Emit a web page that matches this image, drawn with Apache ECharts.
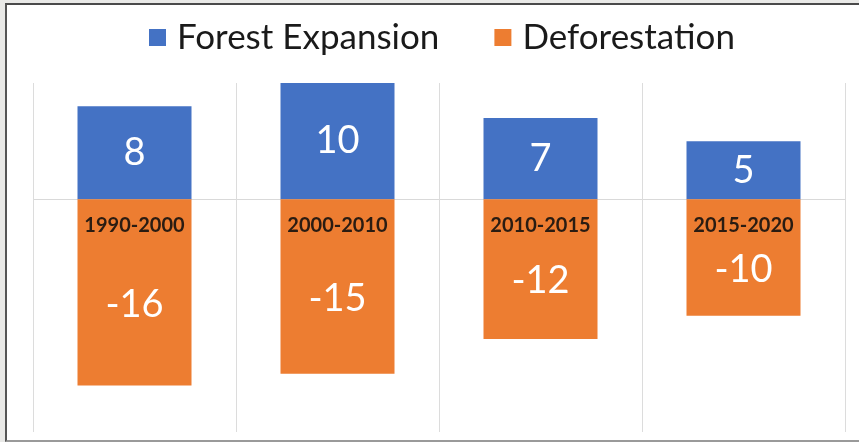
<!DOCTYPE html>
<html>
<head>
<meta charset="utf-8">
<script src="https://cdn.jsdelivr.net/npm/echarts@6/dist/echarts.min.js"></script>
<style>
  html, body { margin: 0; padding: 0; background: #e9e9e7; width: 859px; height: 442px; overflow: hidden; }
  #frame {
    position: absolute; left: 5px; top: 3px; width: 854px; height: 439px;
    background: #ffffff;
    border-left: 2px solid #555555; border-top: 2px solid #4a4a4a; border-bottom: 2px solid #9a9a9a;
    box-sizing: border-box;
  }
  #chart { width: 100%; height: 100%; }
</style>
</head>
<body>
<div id="frame"><div id="chart"></div></div>
<script>
// Periods shown along the zero line
const periods = ['1990-2000', '2000-2010', '2010-2015', '2015-2020'];
// Gains and losses per period
const forestExpansion = [8, 10, 7, 5];
const deforestation = [-16, -15, -12, -10];
const seriesNames = ['Forest Expansion', 'Deforestation'];
const yMin = -20;
const yMax = 10;

const FONT = 'Lato, "Noto Sans", sans-serif';
const chart = echarts.init(document.getElementById('chart'));

function valueLabel(dy) {
  return {
    show: true,
    position: 'inside',
    offset: [0, dy],
    color: '#ffffff',
    fontFamily: FONT,
    fontSize: 38
  };
}

chart.setOption({
  animation: false,
  legend: {
    data: seriesNames,
    top: 10,
    left: 137,
    icon: 'rect',
    itemWidth: 17,
    itemHeight: 17,
    itemGap: 55,
    textStyle: { fontFamily: FONT, fontSize: 35, color: '#1a1a1a', padding: [0, 0, 0, 6] }
  },
  grid: { left: 26, right: 14, top: 78, bottom: 8, outerBoundsMode: 'none' },
  xAxis: {
    type: 'category',
    data: periods,
    z: 10,
    axisLine: { show: false, onZero: false },
    axisTick: { show: false },
    splitLine: { show: true, lineStyle: { color: '#dcdcdc', width: 1 } },
    axisLabel: {
      margin: 16,
      fontFamily: FONT,
      fontWeight: 'bold',
      fontSize: 20,
      color: '#2a1c12'
    }
  },
  yAxis: {
    type: 'value',
    min: yMin,
    max: yMax,
    interval: 10,
    axisLine: { show: false },
    axisTick: { show: false },
    axisLabel: { show: false },
    // only the zero gridline is drawn
    splitLine: {
      show: true,
      lineStyle: { color: ['rgba(0,0,0,0)', 'rgba(0,0,0,0)', '#d9d9d9', 'rgba(0,0,0,0)'], width: 1 }
    }
  },
  series: [
    {
      name: seriesNames[0],
      type: 'bar',
      stack: 'change',
      barWidth: 114,
      data: forestExpansion,
      itemStyle: { color: '#4472c4' },
      label: valueLabel(0)
    },
    {
      name: seriesNames[1],
      type: 'bar',
      stack: 'change',
      barWidth: 114,
      data: deforestation,
      itemStyle: { color: '#ed7d31' },
      // nudged down to clear the period label sitting on the zero line
      label: valueLabel(12)
    }
  ]
});

// Lift the period labels from the bottom edge up to the zero line
const zeroY = chart.convertToPixel({ yAxisIndex: 0 }, 0);
const bottomY = chart.convertToPixel({ yAxisIndex: 0 }, yMin);
chart.setOption({ xAxis: { offset: zeroY - bottomY } });
</script>
</body>
</html>
